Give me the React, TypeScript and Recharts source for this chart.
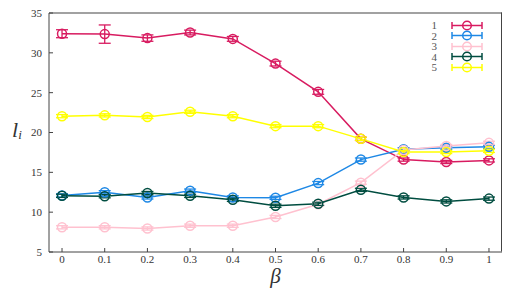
import React from 'react';
import { LineChart, Line, XAxis, YAxis, ErrorBar } from 'recharts';

const betas = [0, 0.1, 0.2, 0.3, 0.4, 0.5, 0.6, 0.7, 0.8, 0.9, 1];
const yTicks = [5, 10, 15, 20, 25, 30, 35];
const xDomain: [number, number] = [-0.0305, 1.0305];
const yDomain: [number, number] = [5, 35];

const series1 = [32.4, 32.35, 31.85, 32.55, 31.75, 28.65, 25.1, 19.2, 16.6, 16.3, 16.5];
const series2 = [12.1, 12.5, 11.85, 12.7, 11.85, 11.8, 13.65, 16.6, 17.9, 18.1, 18.2];
const series3 = [8.1, 8.1, 7.95, 8.3, 8.3, 9.4, 11.0, 13.7, 17.8, 18.3, 18.7];
const series4 = [12.05, 12.0, 12.4, 12.05, 11.55, 10.8, 11.05, 12.8, 11.85, 11.35, 11.7];
const series5 = [22.05, 22.15, 21.95, 22.6, 22.05, 20.8, 20.8, 19.2, 17.55, 17.55, 17.7];

const err1 = [0.5, 1.15, 0.4, 0.3, 0.3, 0.3, 0.3, 0.2, 0.2, 0.2, 0.2];
const err2 = [0.2, 0.2, 0.2, 0.2, 0.2, 0.2, 0.2, 0.2, 0.2, 0.2, 0.2];
const err3 = [0.2, 0.2, 0.2, 0.2, 0.2, 0.2, 0.2, 0.2, 0.2, 0.2, 0.2];
const err4 = [0.2, 0.2, 0.2, 0.2, 0.2, 0.2, 0.2, 0.2, 0.2, 0.2, 0.2];
const err5 = [0.2, 0.2, 0.2, 0.2, 0.2, 0.2, 0.2, 0.2, 0.2, 0.2, 0.2];

const seriesNames = ['1', '2', '3', '4', '5'];
const colors = ['#D81B60', '#1E88E5', '#FFC1CF', '#004D40', '#FFFF00'];

const allSeries = [series1, series2, series3, series4, series5];
const allErrs = [err1, err2, err3, err4, err5];

const data = betas.map((b, i) => {
  const row: any = { beta: b };
  allSeries.forEach((s, k) => {
    row['s' + (k + 1)] = s[i];
    row['e' + (k + 1)] = allErrs[k][i];
  });
  return row;
});

const FONT = '"Liberation Serif", "DejaVu Serif", serif';
const AXIS = '#444';

const CHART_W = 507;
const CHART_H = 296;
const MARGIN = { top: 13, right: 5, bottom: 0, left: 0 };
const Y_AXIS_W = 49;
const X_AXIS_H = 44;

const LegendBox = () => (
  <div
    style={{
      position: 'absolute',
      left: 425,
      top: 20,
      fontFamily: FONT,
      fontSize: 11,
      color: '#555',
      lineHeight: '10.5px',
    }}
  >
    {seriesNames.map((n, k) => (
      <div key={n} style={{ display: 'flex', alignItems: 'center', height: 10.5 }}>
        <span style={{ width: 12, textAlign: 'right', marginRight: 14 }}>{n}</span>
        <svg width={32} height={11} style={{ display: 'block' }}>
          <line x1={1} y1={5.5} x2={31} y2={5.5} stroke={colors[k]} strokeWidth={1.5} />
          <line x1={1} y1={2} x2={1} y2={9} stroke={colors[k]} strokeWidth={1.5} />
          <line x1={31} y1={2} x2={31} y2={9} stroke={colors[k]} strokeWidth={1.5} />
          <circle cx={16} cy={5.5} r={4.3} fill="none" stroke={colors[k]} strokeWidth={1.5} />
        </svg>
      </div>
    ))}
  </div>
);

const XTick = (props: any) => {
  const { x, y, payload } = props;
  return (
    <text x={x} y={y} dy="0.71em" textAnchor="middle" fontFamily={FONT} fontSize={11} fill="#333">
      {String(payload.value)}
    </text>
  );
};

const YTick = (props: any) => {
  const { x, y, payload } = props;
  return (
    <text x={x} y={y} dy="0.355em" textAnchor="end" fontFamily={FONT} fontSize={11} fill="#333">
      {String(payload.value)}
    </text>
  );
};

const YLabel = (props: any) => {
  const vb = props.viewBox || {};
  const cy = vb.y + vb.height / 2;
  return (
    <text x={12} y={cy + 4} fontFamily={FONT} fontStyle="italic" fontSize={22} fill="#333">
      l
      <tspan fontSize={13} dy={2}>i</tspan>
    </text>
  );
};

const XLabel = (props: any) => {
  const vb = props.viewBox || {};
  const cx = vb.x + vb.width / 2;
  return (
    <text x={cx} y={283} textAnchor="middle" fontFamily={FONT} fontStyle="italic" fontSize={21} fill="#333">
      β
    </text>
  );
};

export default function App() {
  return (
    <div style={{ position: 'absolute', left: 0, top: 0, width: CHART_W, height: CHART_H, background: '#fff' }}>
      <LineChart width={CHART_W} height={CHART_H} data={data} margin={MARGIN} style={{ fontFamily: FONT }}>
        <XAxis
          dataKey="beta"
          type="number"
          domain={xDomain}
          ticks={betas}
          height={X_AXIS_H}
          stroke={AXIS}
          tickSize={-4}
          tickMargin={7}
          tick={<XTick />}
          allowDataOverflow
          label={<XLabel />}
        />
        <YAxis
          domain={yDomain}
          ticks={yTicks}
          width={Y_AXIS_W}
          stroke={AXIS}
          tickSize={-4}
          tickMargin={11}
          tick={<YTick />}
          allowDataOverflow
          label={<YLabel />}
        />
        {seriesNames.map((n, k) => (
          <Line
            key={n}
            name={n}
            dataKey={'s' + (k + 1)}
            stroke={colors[k]}
            strokeWidth={1.5}
            dot={{ r: 4.5, fill: 'none', stroke: colors[k], strokeWidth: 1.5 }}
            isAnimationActive={false}
          >
            <ErrorBar dataKey={'e' + (k + 1)} direction="y" width={6} stroke={colors[k]} strokeWidth={1.3} />
          </Line>
        ))}
      </LineChart>
      <div
        style={{
          position: 'absolute',
          left: MARGIN.left + Y_AXIS_W,
          top: MARGIN.top,
          width: CHART_W - MARGIN.left - MARGIN.right - Y_AXIS_W,
          height: CHART_H - MARGIN.top - MARGIN.bottom - X_AXIS_H,
          borderTop: `1px solid ${AXIS}`,
          borderRight: `1px solid ${AXIS}`,
          boxSizing: 'border-box',
          pointerEvents: 'none',
          transform: 'translate(0, -0.5px)',
        }}
      />
      <LegendBox />
    </div>
  );
}
